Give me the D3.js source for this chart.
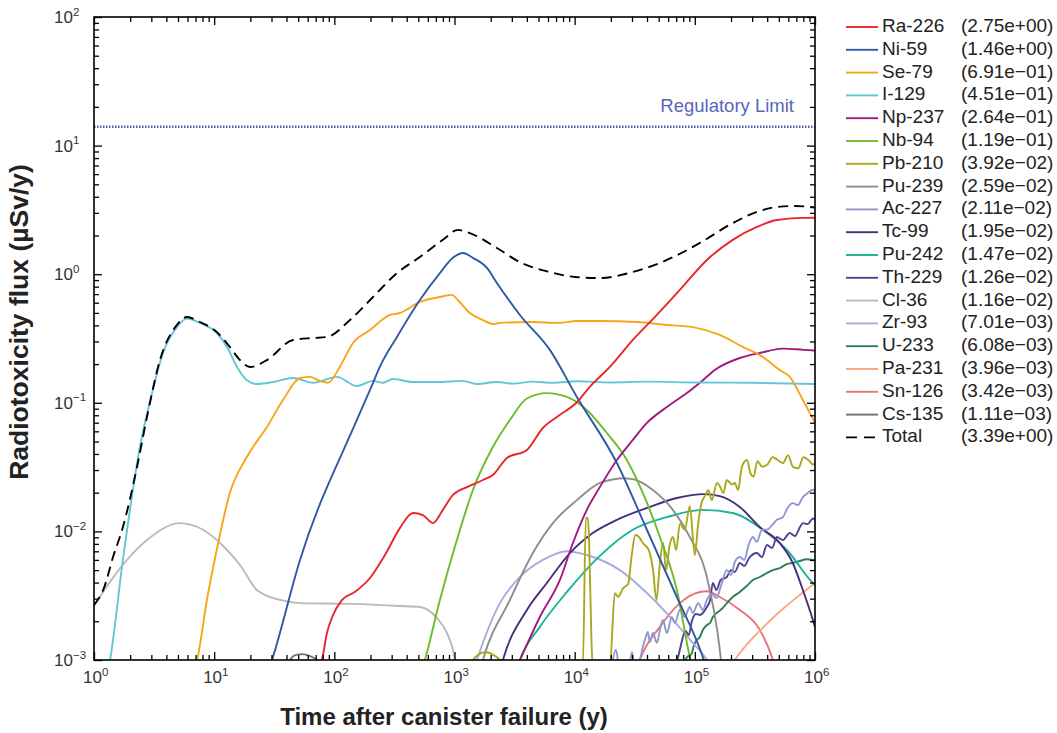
<!DOCTYPE html>
<html>
<head>
<meta charset="utf-8">
<script src="https://cdn.jsdelivr.net/npm/d3@7"></script>
<style>
  body { margin: 0; background: #fff; }
  svg { display: block; }
  text { font-family: "Liberation Sans", Arial, Helvetica, sans-serif; }
</style>
</head>
<body>
<svg id="chart" width="1057" height="733"></svg>
<script>
// Radiotoxicity flux per nuclide: [time after canister failure (y), flux (µSv/y)]
const ra226 = [[75.9,8.9e-4],[78.9,0.001],[86.8,0.00162],[97.3,0.00222],[116,0.00293],[148,0.00338],[198,0.00434],[264,0.00655],[351,0.0106],[451,0.0139],[546,0.0134],[661,0.0116],[800,0.0147],[970,0.0192],[1268,0.0221],[1723,0.0251],[2085,0.0275],[2729,0.0372],[4003,0.043],[5436,0.0637],[7112,0.0776],[10430,0.101],[13360,0.133],[19630,0.19],[30480,0.308],[48330,0.482],[75050,0.754],[125900,1.29],[207000,1.85],[328300,2.33],[481300,2.64],[800000,2.74],[1e6,2.75]];
const ni59 = [[29.1,8.9e-4],[30.3,0.001],[51.8,0.006],[154,0.0735],[210,0.143],[239,0.19],[332,0.325],[515,0.63],[756,1.02],[970,1.34],[1175,1.46],[1423,1.34],[1862,1.12],[2253,0.855],[3501,0.482],[6219,0.258],[10430,0.111],[22450,0.034],[39900,0.0103],[70850,0.00309],[116600,0.00105],[123000,9e-4]];
const se79 = [[6.9,8.9e-4],[7.19,0.001],[8.7,0.00293],[10.5,0.00717],[13.5,0.0199],[18.7,0.0379],[27.5,0.0649],[37.4,0.105],[51.8,0.156],[62.7,0.159],[75.9,0.148],[88.5,0.143],[111,0.19],[143,0.292],[198,0.368],[290,0.482],[351,0.499],[515,0.608],[756,0.665],[951,0.691],[1067,0.63],[1343,0.499],[1723,0.44],[2085,0.41],[2388,0.418],[4239,0.425],[7535,0.418],[10400,0.433],[16200,0.433],[32890,0.425],[58520,0.403],[96170,0.388],[161400,0.337],[250600,0.272],[347800,0.235],[509600,0.18],[616600,0.159],[792500,0.105],[1e6,0.07]];
const i129 = [[1.3,8e-4],[1.36,0.001],[1.74,0.006],[2.41,0.0453],[3.04,0.119],[3.75,0.244],[4.9,0.388],[5.94,0.451],[7.62,0.418],[10.5,0.349],[12.8,0.272],[15.5,0.19],[18.7,0.15],[22.7,0.14],[30.9,0.145],[45.3,0.156],[66.4,0.143],[105,0.159],[154,0.135],[210,0.148],[254,0.143],[307,0.153],[451,0.145],[714,0.145],[1175,0.148],[1536,0.14],[2253,0.145],[3062,0.141],[4490,0.146],[6589,0.143],[10400,0.147],[20000,0.144],[40000,0.146],[1e5,0.144],[3e5,0.143],[1e6,0.14]];
const np237 = [[3306,8.9e-4],[3501,0.001],[5132,0.00216],[7535,0.00419],[9669,0.00812],[12620,0.0147],[16200,0.0221],[22450,0.0359],[30480,0.0514],[39900,0.0697],[58520,0.0927],[85770,0.119],[116600,0.15],[146600,0.18],[236600,0.223],[347800,0.244],[539900,0.264],[800000,0.258],[1e6,0.255]];
const nb94 = [[546,8.9e-4],[567,0.001],[756,0.00293],[1047,0.00857],[1423,0.021],[2085,0.0453],[2891,0.0735],[4003,0.108],[5869,0.119],[8617,0.111],[12620,0.0879],[18530,0.0582],[27180,0.0359],[36900,0.0199],[51200,0.00904],[70850,0.0035],[90850,0.00105],[94410,9e-4]];
const pb210 = [[1343,9e-4],[1423,0.001],[1791,0.00115],[2253,0.00105],[2388,0.001],[2529,9e-4],[11700,9e-4],[12390,0.0127],[12880,0.0127],[14150,9e-4],[19630,9e-4],[21590,0.0033],[23000,0.0031],[25330,0.00362],[27870,0.0039],[29740,0.00636],[32000,0.00938],[34400,0.00904],[36900,0.00812],[41300,0.00717],[44900,0.005],[47900,0.00293],[51200,0.00568],[54500,0.00812],[57600,0.005],[61500,0.0077],[65600,0.00904],[70000,0.00717],[75050,0.0115],[82400,0.0103],[90850,0.0157],[100000,0.00655],[106600,0.0115],[113800,0.0167],[121300,0.0188],[129600,0.0209],[138400,0.0175],[152800,0.0238],[161400,0.0225],[172500,0.0199],[184600,0.0251],[204000,0.0232],[215100,0.0238],[229000,0.0209],[246000,0.0318],[272000,0.0359],[290000,0.0283],[309000,0.0267],[331000,0.0352],[364000,0.0318],[402000,0.0331],[444000,0.0378],[490000,0.0359],[541000,0.034],[597000,0.0392],[655000,0.0318],[726000,0.031],[802000,0.0378],[880000,0.0359],[965000,0.0331],[1e6,0.034]];
const pu239 = [[1670,9e-4],[1723,0.001],[2891,0.00293],[4490,0.00679],[6589,0.0116],[10430,0.0175],[16200,0.0238],[19630,0.0251],[25000,0.0259],[30480,0.0255],[44770,0.021],[65640,0.0147],[90850,0.00904],[125900,0.00442],[161400,0.0012],[167000,9e-4]];
const ac227 = [[20400,9e-4],[22000,0.0012],[23500,9e-4],[28400,9e-4],[30000,0.00115],[31500,9e-4],[34830,0.001],[36900,0.00126],[39100,0.00151],[40600,0.00165],[42300,0.00138],[44770,0.00162],[48330,0.00136],[51200,0.00171],[54230,0.00205],[58520,0.00162],[64400,0.00216],[68100,0.00194],[75050,0.00245],[82400,0.00216],[90850,0.00258],[96170,0.00232],[106600,0.00277],[116600,0.00245],[125900,0.00293],[138000,0.00326],[151000,0.00303],[166000,0.00383],[184600,0.005],[200000,0.00458],[215100,0.00578],[236600,0.00632],[258000,0.006],[280000,0.00783],[303900,0.00904],[328000,0.00828],[362000,0.0103],[398000,0.0103],[440000,0.0112],[481300,0.0123],[539900,0.0129],[590000,0.0152],[653100,0.0166],[720000,0.016],[792500,0.0185],[870000,0.0199],[960000,0.0211],[1e6,0.0205]];
const tc99 = [[2450,9e-4],[2529,0.001],[4003,0.00245],[5869,0.00397],[9128,0.00679],[14150,0.00972],[22450,0.0123],[42270,0.0155],[70850,0.0182],[120000,0.0195],[161400,0.0188],[236600,0.0155],[347800,0.0108],[509600,0.00812],[653100,0.00568],[792500,0.0035],[959900,0.00205],[1e6,0.00181]];
const pu242 = [[3370,9e-4],[3501,0.001],[5132,0.00181],[8617,0.00338],[16200,0.00645],[30480,0.0103],[58520,0.0129],[116600,0.0147],[207000,0.0139],[368300,0.0103],[583400,0.00717],[959900,0.00397],[1e6,0.00383]];
const th229 = [[69500,9e-4],[75050,0.0012],[80500,0.00156],[84000,0.00168],[89000,0.00156],[94400,0.002],[102000,0.00228],[110200,0.00224],[116600,0.00232],[125900,0.00258],[134000,0.00293],[141200,0.00397],[151000,0.0035],[164000,0.00419],[184600,0.00442],[200000,0.005],[215000,0.00483],[236600,0.00568],[258000,0.00538],[283000,0.00621],[328300,0.00679],[362000,0.00632],[398000,0.00783],[440000,0.00743],[481300,0.00904],[540000,0.00857],[616600,0.00972],[680000,0.0092],[750000,0.0108],[792500,0.0116],[870000,0.0114],[960000,0.0126],[1e6,0.0123]];
const cl36 = [[1,0.00263],[1.36,0.00405],[1.88,0.006],[2.76,0.00857],[5.2,0.0116],[8.07,0.0103],[12.8,0.00717],[16.4,0.00548],[22.7,0.0035],[35.3,0.00293],[51.8,0.00277],[135,0.00273],[351,0.00263],[515,0.00258],[714,0.00212],[865,0.00162],[970,0.0012],[1008,0.001],[1030,9e-4]];
const zr93 = [[1480,9e-4],[1536,0.001],[2388,0.00277],[3501,0.00442],[5436,0.006],[8617,0.00701],[12620,0.00655],[23780,0.005],[39900,0.00332],[65640,0.00205],[96170,0.00136],[125900,0.001],[134000,9e-4]];
const u233 = [[78000,9e-4],[85770,0.00105],[94400,0.00113],[98000,0.00129],[104000,0.00143],[110200,0.00151],[116600,0.00171],[125900,0.00187],[134000,0.00194],[141200,0.00216],[156000,0.00236],[171000,0.00254],[184600,0.00277],[207000,0.00309],[236600,0.00338],[270000,0.00376],[303900,0.00419],[347800,0.00442],[398000,0.00475],[445800,0.005],[509600,0.00519],[583400,0.00557],[653100,0.00568],[750000,0.00589],[850000,0.00608],[960000,0.006],[1e6,0.006]];
const pa231 = [[200000,9e-4],[215100,0.001],[445800,0.00212],[1e6,0.00396]];
const sn126 = [[33500,9e-4],[34830,0.001],[51200,0.00181],[75050,0.00277],[110200,0.00338],[125000,0.00342],[161400,0.00309],[236600,0.00245],[347800,0.00171],[445800,0.001],[460000,9e-4]];
const cs135 = [[41.1,9e-4],[42.7,0.001],[48.8,0.0011],[54.8,0.00111],[62.7,0.00107],[71.7,0.001],[74.6,9e-4]];
const total = [[1,0.00268],[1.21,0.00363],[1.44,0.00632],[1.74,0.0108],[2.28,0.0317],[2.76,0.0776],[3.54,0.215],[4.9,0.403],[5.94,0.465],[7.62,0.425],[10.5,0.356],[13.5,0.272],[16.4,0.215],[19.9,0.19],[27.5,0.215],[45.3,0.308],[66.4,0.319],[86.8,0.325],[135,0.44],[210,0.665],[332,1.02],[515,1.36],[800,1.85],[1067,2.21],[1268,2.13],[2253,1.6],[3501,1.24],[6219,1.04],[10040,0.951],[16200,0.933],[30480,1.04],[58520,1.29],[110200,1.75],[207000,2.5],[328300,3.05],[481300,3.33],[679000,3.39],[1e6,3.3]];

// Legend entries: names, peak flux values, colours
const nuclides = ["Ra-226","Ni-59","Se-79","I-129","Np-237","Nb-94","Pb-210","Pu-239","Ac-227","Tc-99","Pu-242","Th-229","Cl-36","Zr-93","U-233","Pa-231","Sn-126","Cs-135","Total"];
const peakFlux = [2.75,1.46,0.691,0.451,0.264,0.119,0.0392,0.0259,0.0211,0.0195,0.0147,0.0126,0.0116,0.00701,0.00608,0.00396,0.00342,0.00111,3.39];
const colors = ["#e8262b","#2f58a6","#f9a51b","#62c6d8","#a0197f","#6cbc2d","#aaa81e","#8e8e8e","#9097cf","#4b2b7b","#18b394","#4e418f","#bababa","#abaade","#2e7e52","#f9a57c","#ea7379","#717171","#000000"];
const series = [ra226, ni59, se79, i129, np237, nb94, pb210, pu239, ac227, tc99, pu242, th229, cl36, zr93, u233, pa231, sn126, cs135, total];

const regulatoryLimit = 14;
const xMajor = [1,10,100,1e3,1e4,1e5,1e6];
const yMajor = [1e-3,1e-2,1e-1,1,10,100];

const svg = d3.select("#chart");
const plot = { left: 94, right: 815, top: 17, bottom: 660 };

const x = d3.scaleLog().domain([1, 1e6]).range([plot.left, plot.right]);
const y = d3.scaleLog().domain([1e-3, 1e2]).range([plot.bottom, plot.top]);

const minor = (majors) => {
  const out = [];
  for (let i = 0; i < majors.length - 1; i++)
    for (let k = 2; k <= 9; k++) out.push(majors[i] * k);
  return out;
};
const xMinor = minor(xMajor), yMinor = minor(yMajor);

svg.append("defs").append("clipPath").attr("id", "plotClip")
  .append("rect")
  .attr("x", plot.left).attr("y", plot.top)
  .attr("width", plot.right - plot.left).attr("height", plot.bottom - plot.top);

// Regulatory limit
svg.append("line")
  .attr("x1", plot.left).attr("x2", plot.right)
  .attr("y1", y(regulatoryLimit)).attr("y2", y(regulatoryLimit))
  .attr("stroke", "#4f60b5").attr("stroke-width", 2.4)
  .attr("stroke-dasharray", "1.5 1.5");
svg.append("text")
  .attr("x", 794).attr("y", 111.5)
  .attr("text-anchor", "end")
  .attr("font-size", 18.5)
  .attr("fill", "#5666bb")
  .text("Regulatory Limit");

// Curves
const line = d3.line()
  .x(d => x(d[0]))
  .y(d => y(d[1]))
  .curve(d3.curveMonotoneX);

const curves = svg.append("g").attr("clip-path", "url(#plotClip)");
for (let i = series.length - 2; i >= 0; i--) {
  curves.append("path")
    .attr("d", line(series[i]))
    .attr("fill", "none")
    .attr("stroke", colors[i])
    .attr("stroke-width", 1.9)
    .attr("stroke-linejoin", "round");
}
curves.append("path")
  .attr("d", line(total))
  .attr("fill", "none")
  .attr("stroke", "#000")
  .attr("stroke-width", 1.9)
  .attr("stroke-dasharray", "10 6");

// Axes: ticks point inward on all four sides
const axisG = svg.append("g").attr("class", "axes");
function ticks(axisFn, scale, values, size, transform) {
  axisG.append("g")
    .attr("transform", transform)
    .call(axisFn(scale).tickValues(values).tickSize(size).tickFormat(""))
    .call(g => g.select(".domain").remove())
    .call(g => g.selectAll("line").attr("stroke", "#000").attr("stroke-width", 1.3));
}
ticks(d3.axisBottom, x, xMajor, -8, `translate(0,${plot.bottom})`);
ticks(d3.axisBottom, x, xMinor, -5, `translate(0,${plot.bottom})`);
ticks(d3.axisTop, x, xMajor, -8, `translate(0,${plot.top})`);
ticks(d3.axisTop, x, xMinor, -5, `translate(0,${plot.top})`);
ticks(d3.axisLeft, y, yMajor, -8, `translate(${plot.left},0)`);
ticks(d3.axisLeft, y, yMinor, -5, `translate(${plot.left},0)`);
ticks(d3.axisRight, y, yMajor, -8, `translate(${plot.right},0)`);
ticks(d3.axisRight, y, yMinor, -5, `translate(${plot.right},0)`);

svg.append("rect")
  .attr("x", plot.left).attr("y", plot.top)
  .attr("width", plot.right - plot.left).attr("height", plot.bottom - plot.top)
  .attr("fill", "none").attr("stroke", "#000").attr("stroke-width", 1.6);

const expText = v => {
  const e = Math.round(Math.log10(v));
  return (e < 0 ? "\u2212" : "") + Math.abs(e);
};

// x tick labels
xMajor.forEach(v => {
  const t = svg.append("text")
    .attr("x", x(v) - 11).attr("y", 683)
    .attr("font-size", 17).attr("fill", "#333");
  t.append("tspan").text("10");
  t.append("tspan").attr("dy", -7).attr("font-size", 11.5).text(expText(v));
});

// y tick labels
yMajor.forEach(v => {
  const t = svg.append("text")
    .attr("x", 54).attr("y", y(v) + 6)
    .attr("font-size", 17).attr("fill", "#333");
  t.append("tspan").text("10");
  t.append("tspan").attr("dy", -7.5).attr("font-size", 11.5).text(expText(v));
});

// Axis titles
svg.append("text")
  .attr("x", 444).attr("y", 725)
  .attr("text-anchor", "middle")
  .attr("font-size", 24).attr("font-weight", "bold").attr("fill", "#222")
  .text("Time after canister failure (y)");
svg.append("text")
  .attr("transform", "translate(28,322) rotate(-90)")
  .attr("text-anchor", "middle")
  .attr("font-size", 26.5).attr("font-weight", "bold").attr("fill", "#222")
  .text("Radiotoxicity flux (\u00b5Sv/y)");

// Legend
const fmtExp = v => {
  let e = Math.floor(Math.log10(v));
  let m = v / Math.pow(10, e);
  if (m >= 9.995) { m /= 10; e += 1; }
  return "(" + m.toFixed(2) + "e" + (e < 0 ? "\u2212" : "+") + String(Math.abs(e)).padStart(2, "0") + ")";
};
const legend = svg.append("g");
nuclides.forEach((name, i) => {
  const base = 32 + i * 22.8;
  const isTotal = name === "Total";
  legend.append("line")
    .attr("x1", 846).attr("x2", isTotal ? 875 : 878)
    .attr("y1", base - 5).attr("y2", base - 5)
    .attr("stroke", colors[i]).attr("stroke-width", 1.9)
    .attr("stroke-dasharray", isTotal ? "11 7" : null);
  legend.append("text")
    .attr("x", 882).attr("y", base)
    .attr("font-size", 19).attr("fill", "#222")
    .text(name);
  legend.append("text")
    .attr("x", 961).attr("y", base)
    .attr("font-size", 19).attr("fill", "#222")
    .text(fmtExp(peakFlux[i]));
});
</script>
</body>
</html>
